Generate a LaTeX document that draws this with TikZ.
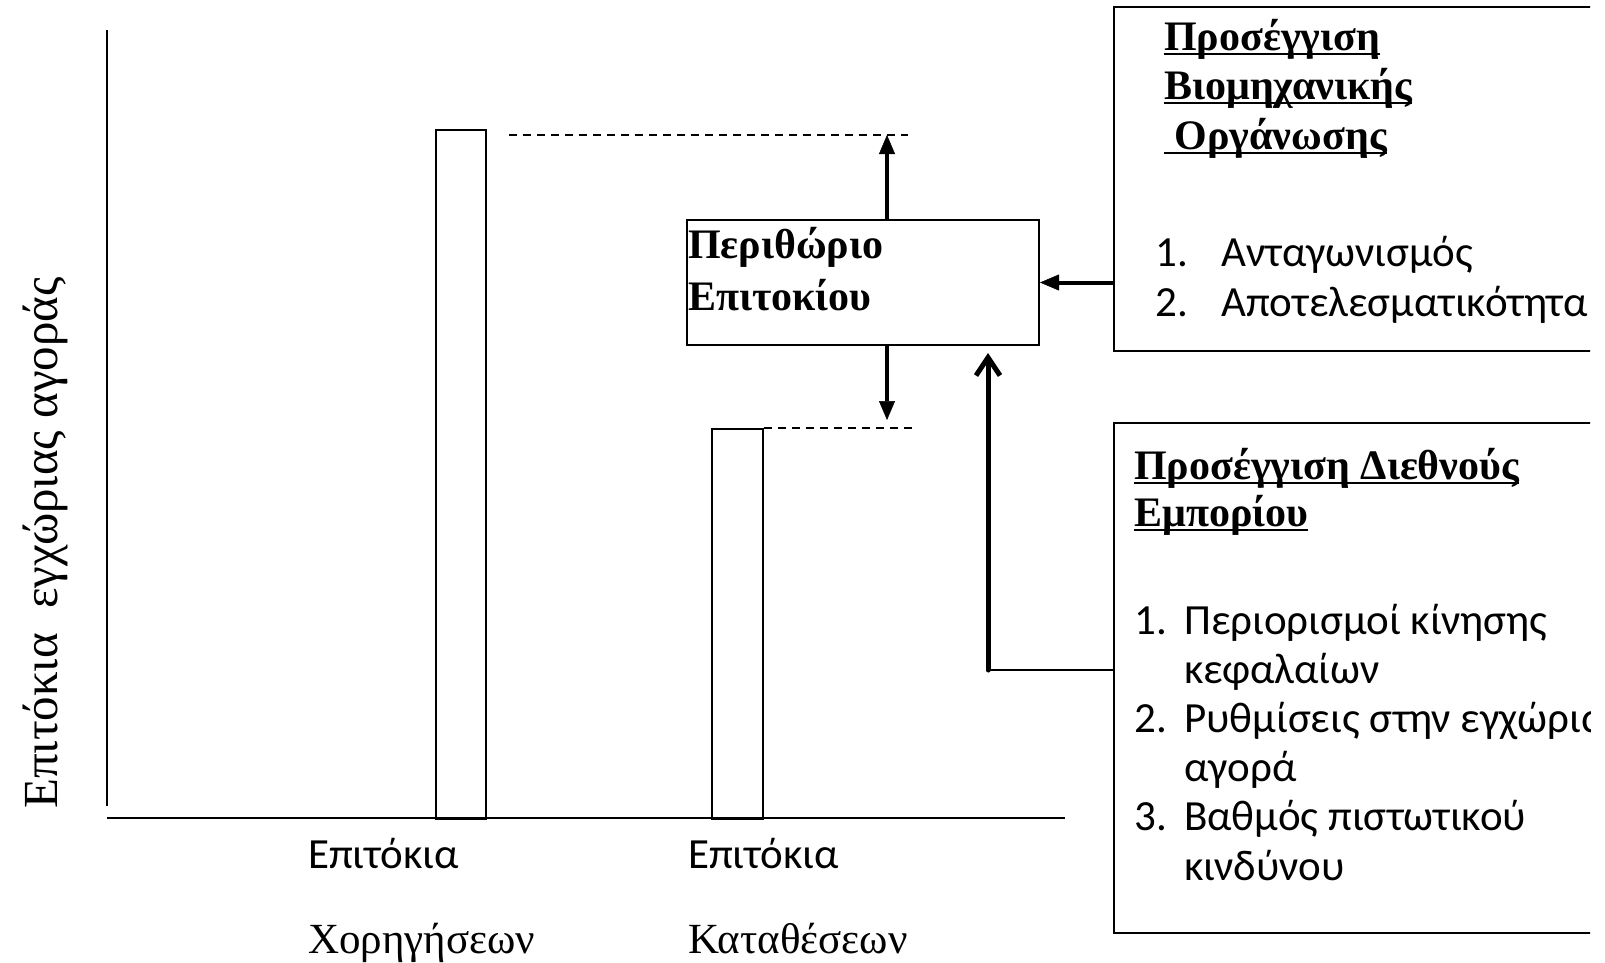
\documentclass[tikz,border=0pt]{standalone}
\usepackage{fontspec}
\setmainfont{Liberation Serif}
\newfontfamily\calfont{Carlito}
\usetikzlibrary{arrows.meta}
\newcommand\myul[1]{\setbox0=\hbox{#1}\rlap{\rule[-5pt]{\wd0}{2.5pt}}\box0}
\tikzset{
  serif/.style={font=\fontsize{43}{48}\selectfont, inner sep=0pt, anchor=base west},
  serifb/.style={font=\fontsize{42}{48}\selectfont\bfseries, inner sep=0pt, anchor=base west},
  sans/.style={font=\calfont\fontsize{43}{49}\selectfont, inner sep=0pt, anchor=base west},
  boxed/.style={draw, line width=2pt, anchor=north west, inner sep=0pt},
  bar/.style={draw, line width=1.8pt, anchor=north west, inner sep=0pt},
  axis/.style={line width=2.4pt},
  dashline/.style={line width=1.4pt, dash pattern=on 8pt off 6pt},
  fillarrow/.style={line width=4pt, -{Triangle[length=19pt,width=16pt,line width=0.5pt]}},
  openarrow/.style={line width=5pt, line cap=round, -{Straight Barb[length=18pt,width=24pt]}},
  thinline/.style={line width=2pt}
}
\begin{document}
\begin{tikzpicture}[x=1pt,y=-1pt]
\useasboundingbox (0,0) rectangle (1605,962);
% axes
\coordinate (ytop) at (107,30);
\coordinate (ybot) at (107,806);
\coordinate (xl) at (107,818);
\coordinate (xr) at (1065,818);
\draw[axis] (ytop) -- (ybot);
\draw[axis] (xl) -- (xr);
% bars
\node[bar, minimum width=50pt, minimum height=689pt] (bar1) at (435,129) {};
\node[bar, minimum width=51pt, minimum height=390pt] (bar2) at (711,428) {};
% y label
\node[serif, rotate=90, font=\fontsize{49}{56}\selectfont] (ylab) at (57,809) {Επιτόκια\ \ εγχώριας αγοράς};
% x labels
\node[sans] (l1a) at (308,868) {Επιτόκια};
\node[serif] (l1b) at (308,953) {Χορηγήσεων};
\node[sans] (l2a) at (688,868) {Επιτόκια};
\node[serif] (l2b) at (688,953) {Καταθέσεων};
% margin box
\node[boxed, minimum width=352pt, minimum height=125pt] (peri) at (686,219) {};
\node[serifb] (p1) at (688,258) {Περιθώριο};
\node[serifb] (p2) at (688,310) {Επιτοκίου};
% dashed lines and arrows
\coordinate (up) at (887,135);
\coordinate (dn) at (887,420);
\coordinate (d1s) at (509,135);
\coordinate (d1e) at (908,135);
\coordinate (d2e) at (913,428);
\draw[dashline] (d1s) -- (d1e);
\draw[dashline] (bar2.north east) -- (d2e);
\draw[fillarrow] (peri.north -| up) -- (up);
\draw[fillarrow] (peri.south -| dn) -- (dn);
\begin{scope}
\clip (0,0) rectangle (1590,962);
\node[boxed, minimum width=497pt, minimum height=344pt] (b1) at (1113,6) {};
\node[serifb] (h1) at (1164,50) {\myul{Προσέγγιση}};
\node[serifb] (h2) at (1164,99) {\myul{Βιομηχανικής}};
\node[serifb] (h3) at (1164,149) {\myul{\ Οργάνωσης}};
\node[sans] (n1) at (1155,266) {1.};
\node[sans] (t1) at (1221,266) {Ανταγωνισμός};
\node[sans] (n2) at (1155,316) {2.};
\node[sans] (t2) at (1221,316) {Αποτελεσματικότητα};
\node[boxed, minimum width=497pt, minimum height=510pt] (b2) at (1113,422) {};
\node[serifb] (g1) at (1134,479) {\myul{Προσέγγιση Διεθνούς}};
\node[serifb] (g2) at (1134,526) {\myul{Εμπορίου}};
\node[sans] (m1) at (1134,634) {1.};
\node[sans] (s1) at (1184,634) {Περιορισμοί κίνησης};
\node[sans] (s1b) at (1184,683) {κεφαλαίων};
\node[sans] (m2) at (1134,732) {2.};
\node[sans] (s2) at (1184,732) {Ρυθμίσεις στην εγχώρια};
\node[sans] (s2b) at (1184,781) {αγορά};
\node[sans] (m3) at (1134,830) {3.};
\node[sans] (s3) at (1184,830) {Βαθμός πιστωτικού};
\node[sans] (s3b) at (1184,880) {κινδύνου};
\end{scope}
% connectors from boxes
\draw[fillarrow] (b1.west |- peri.east) -- (peri.east);
\coordinate (corner) at (988,670);
\coordinate (tip) at (988,353);
\draw[thinline] (b2.west |- corner) -- (corner);
\draw[openarrow] (corner) -- (tip);
\end{tikzpicture}
\end{document}
